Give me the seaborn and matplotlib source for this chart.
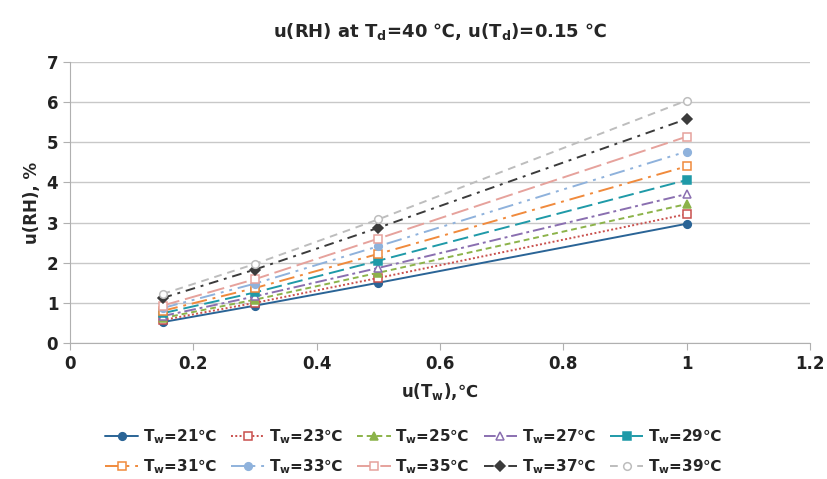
import matplotlib
matplotlib.use("Agg")
import matplotlib.pyplot as plt
import seaborn as sns
import pandas as pd

u_tw = [0.15, 0.3, 0.5, 1.0]
tw_labels = ["21", "23", "25", "27", "29", "31", "33", "35", "37", "39"]
s21 = [0.52, 0.93, 1.50, 2.97]
s23 = [0.57, 1.00, 1.62, 3.21]
s25 = [0.62, 1.08, 1.75, 3.46]
s27 = [0.67, 1.16, 1.87, 3.71]
s29 = [0.74, 1.26, 2.05, 4.06]
s31 = [0.80, 1.37, 2.22, 4.40]
s33 = [0.87, 1.48, 2.41, 4.77]
s35 = [0.93, 1.59, 2.60, 5.14]
s37 = [1.12, 1.83, 2.87, 5.58]
s39 = [1.22, 1.97, 3.08, 6.04]
series = [s21, s23, s25, s27, s29, s31, s33, s35, s37, s39]

styles = [
    dict(color="#2a6496", ls="-", marker="o", filled=True),
    dict(color="#c9504d", ls=(0, (1, 1.2)), marker="s", filled=False),
    dict(color="#8cb34a", ls=(0, (3, 2)), marker="^", filled=True),
    dict(color="#8a6fb0", ls=(0, (6, 2, 1.5, 2)), marker="^", filled=False),
    dict(color="#1f9aa8", ls=(0, (8, 3)), marker="s", filled=True),
    dict(color="#f08a3c", ls=(0, (8, 3, 1.5, 3)), marker="s", filled=False),
    dict(color="#8fb2dc", ls=(0, (8, 3, 1.5, 3, 1.5, 3)), marker="o", filled=True),
    dict(color="#e6a29c", ls=(0, (9, 3)), marker="s", filled=False),
    dict(color="#3b3b3b", ls=(0, (5, 3, 1.5, 3)), marker="D", filled=True),
    dict(color="#bdbdbd", ls=(0, (4, 3)), marker="o", filled=False),
]

sns.set_style("white")
plt.rcParams["font.family"] = ["DejaVu Sans"]

fig = plt.figure(figsize=(8.27, 4.79), dpi=100)
ax = fig.add_axes([70 / 827, 1 - 343 / 479, 740 / 827, 281 / 479])

handles = []
for lab, vals, st in zip(tw_labels, series, styles):
    df = pd.DataFrame({"x": u_tw, "y": vals})
    sns.lineplot(data=df, x="x", y="y", ax=ax, color=st["color"], linestyle=st["ls"],
                 linewidth=1.4, marker=st["marker"], markersize=5.5,
                 markerfacecolor=st["color"] if st["filled"] else "white",
                 markeredgecolor=st["color"], markeredgewidth=1.1)
    handles.append(ax.lines[-1])

ax.set_xlim(0, 1.2)
ax.set_ylim(0, 7)
ax.set_xticks([0, 0.2, 0.4, 0.6, 0.8, 1.0, 1.2])
ax.set_xticklabels(["0", "0.2", "0.4", "0.6", "0.8", "1", "1.2"])
ax.set_yticks(range(0, 8))
ax.yaxis.grid(True, color="#c8c8c8", linewidth=1)
ax.xaxis.grid(False)
for s in ["top", "right"]:
    ax.spines[s].set_visible(False)
for s in ["left", "bottom"]:
    ax.spines[s].set_color("#b0b0b0")
ax.tick_params(axis="both", which="both", direction="out", length=5, color="#b0b0b0",
               labelsize=12, labelcolor="#222222", bottom=True, left=True)
for t in ax.get_xticklabels() + ax.get_yticklabels():
    t.set_fontweight("bold")

ax.set_xlabel(r"u(T$_\mathbf{w}$),℃", fontsize=12, fontweight="bold", labelpad=6)
ax.set_ylabel("u(RH), %", fontsize=12, fontweight="bold", labelpad=4)
ax.set_title(r"u(RH) at T$_\mathbf{d}$=40 ℃, u(T$_\mathbf{d}$)=0.15 ℃",
             fontsize=13, fontweight="bold", pad=18)

# legend filled row-wise (matplotlib fills column-wise, so reorder)
labels = [r"T$_\mathbf{w}$=" + l + "℃" for l in tw_labels]
order = [0, 5, 1, 6, 2, 7, 3, 8, 4, 9]
leg = fig.legend([handles[i] for i in order], [labels[i] for i in order],
                 loc="center", bbox_to_anchor=(0.5, 1 - 452 / 479), ncol=5,
                 frameon=False, fontsize=11, handlelength=2.2, columnspacing=0.9,
                 handletextpad=0.3, labelspacing=0.75)
for t in leg.get_texts():
    t.set_fontweight("bold")

fig.savefig("out.png", dpi=100)
